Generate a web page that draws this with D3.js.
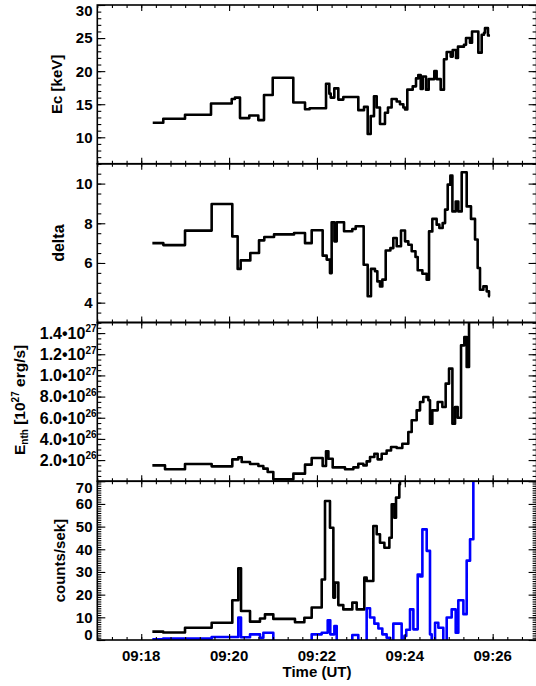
<!DOCTYPE html>
<html><head><meta charset="utf-8">
<script src="https://cdn.jsdelivr.net/npm/d3@7"></script>
<style>
body{margin:0;background:#fff}
svg{display:block}
text{font-family:"Liberation Sans",Arial,Helvetica,sans-serif;font-weight:bold;fill:#000}
</style>
</head><body>
<svg id="c" width="536" height="686"></svg>
<script>
// time values: seconds after 09:17:00 UT
const xMajorTicks = [60, 180, 300, 420, 540];
const xTickLabels = ["09:18", "09:20", "09:22", "09:24", "09:26"];

// Panel 1: Ec [keV]
const ecData = [[75.7,12.2],[90.1,12.8],[119.8,13.4],[155.3,15.1],[183.6,15.8],[188,16.0],[194.9,12.9],[207.6,13.3],[219.9,12.6],[227.7,16.4],[239.6,19.0],[267.7,15.25],[283.7,14.25],[290,14.4],[312.4,18.1],[316.9,16.6],[318.8,16.0],[323.7,17.4],[329.2,15.7],[336,16.1],[356.5,14.1],[364.3,14.6],[369.3,10.5],[373.4,13.2],[377.9,16.2],[381.6,14.5],[386.1,12.0],[392.9,13.7],[397,14.5],[402,15.8],[408.9,15.4],[413.4,15.0],[418,14.5],[420.3,14.2],[423.4,17.2],[430.8,17.7],[435.3,18.9],[438.4,19.4],[441.7,17.3],[444.4,19.2],[448.9,17.2],[452.6,18.8],[460.3,20.0],[463.5,18.8],[469,17.2],[473.5,21.8],[477.2,22.9],[482.7,22.2],[485.4,23.2],[489.9,22.0],[492.6,23.7],[500.8,24.0],[503.6,25.0],[509,24.3],[511.8,26.0],[520.4,22.8],[525,25.5],[528.2,25.8],[529.5,26.5],[533.6,25.4],[536.4,25.4]];
const ecTicks = [10, 15, 20, 25, 30];

// Panel 2: delta
const deltaData = [[75.2,7.0],[90.2,6.9],[119.8,7.63],[156.2,8.97],[184.4,7.34],[191.7,5.70],[195.8,6.13],[209,6.50],[220.9,7.14],[228.1,7.31],[241.4,7.44],[268.7,7.51],[283.7,7.0],[292.8,7.65],[307.8,6.37],[313.3,6.17],[317.8,5.49],[320.1,8.05],[323.8,7.09],[327,8.05],[337,7.6],[348.3,7.71],[352.9,7.85],[363.8,5.91],[369.3,4.32],[373.8,5.70],[379.3,5.58],[382.5,5.07],[386.1,4.82],[389.3,5.16],[393.9,6.63],[400.3,6.75],[404.3,7.26],[408.9,6.84],[414.8,7.64],[420.3,7.09],[424.8,6.92],[429.4,6.59],[434.6,6.3],[437.6,5.63],[444,5.46],[449.9,5.16],[453.1,7.59],[457.6,8.22],[463.5,7.93],[467.2,7.76],[471.7,8.01],[475,8.69],[478.6,9.95],[482.2,10.4],[485,8.6],[489.5,9.1],[493.1,8.6],[497.7,10.57],[504.5,8.85],[510.4,8.22],[515.9,7.18],[519.5,5.75],[522.7,4.65],[527.3,4.82],[531.8,4.57],[535,4.32],[536.4,4.32]];
const deltaTicks = [4, 6, 8, 10];

// Panel 3: E_nth in units of 1e27 erg/s
const enthData = [[75.2,0.150],[92.5,0.113],[119.8,0.163],[156.2,0.141],[184.4,0.207],[192.6,0.226],[197.2,0.182],[208.6,0.163],[220,0.144],[226.8,0.119],[232.7,0.087],[240.4,0.018],[267.8,0.072],[283.7,0.157],[292.8,0.22],[307.8,0.144],[312.4,0.283],[315.6,0.213],[321.5,0.131],[338.3,0.113],[349.7,0.131],[356.5,0.166],[363.4,0.15],[367.9,0.188],[372.5,0.229],[378.4,0.26],[382.9,0.207],[388.4,0.26],[395.2,0.29],[401.2,0.324],[408.9,0.314],[416.6,0.355],[424.8,0.465],[429.4,0.576],[436.2,0.67],[440.8,0.749],[445.3,0.796],[452.2,0.765],[454.4,0.544],[457.6,0.67],[464.9,0.749],[471.3,0.702],[475.8,0.922],[480.4,1.064],[485,0.544],[488.6,0.702],[492.2,0.60],[496.8,1.284],[501.3,1.363],[504.5,1.08],[507.7,1.7],[510,1.7]];
const enthTicks = [0.2, 0.4, 0.6, 0.8, 1.0, 1.2, 1.4];

// Panel 4: counts/sec
const countsBlack = [[75.2,3.7],[90,3.3],[119.8,5.4],[156.2,7.6],[184.4,17.5],[192.6,31.6],[196.3,12.8],[208.6,8.1],[222.2,9.5],[229,11.3],[240.4,9.3],[270,7.8],[282.8,9.8],[292.8,14.3],[306.5,26.7],[311,61.3],[317.8,49.5],[322.4,18.7],[324.7,25.3],[329.2,15.4],[336,13.5],[348.3,16.5],[354.3,13.5],[364.7,27.5],[367.9,26],[377,50.3],[381.6,46.6],[386.1,42.9],[392.1,40.7],[398.9,45.1],[402.1,59.8],[405.7,53.9],[408,62.8],[412.5,68.6],[413.4,75],[416,75]];
const countsBlue = [[75.2,0.3],[90,0.6],[156.2,1.3],[192.6,9.9],[196.3,1.2],[208.6,2.5],[222.2,1.0],[226.8,3.2],[240.4,-2],[292.8,2.5],[306.5,3.2],[314.7,8.7],[318.2,2.5],[323.8,6.2],[327,-2],[348.3,2.2],[356.5,-2],[367.9,14],[372.5,9.9],[378.4,7.2],[383.9,5.1],[389.3,2.5],[395.2,1.0],[399.8,-2],[404.3,7.2],[415.7,-2],[419.4,1.8],[422,4.5],[427.1,13.5],[431.7,4.7],[437.6,28.9],[441,28],[444,48.8],[449.9,39.3],[454.4,2.5],[456.7,-2],[461.3,7.6],[465.8,5.4],[472.6,-2],[477.2,9.9],[484,13.5],[489.5,3.2],[493.1,17.5],[500,11.4],[504.5,35],[509.1,44.4],[513.6,75],[516,75]];
const countsTicks = [0, 10, 20, 30, 40, 50, 60, 70];

const FS = 15;
const L = 97.3, R = 536.6;
const panelTop = [5, 163.75, 322.5, 481.25], PH = 158.75;

const svg = d3.select("#c");
const defs = svg.append("defs");
const x = d3.scaleLinear().domain([0, 600]).range([L, R]);
const xMinor = d3.range(0, 601, 20);

const panels = [
  {domain:[6,30], major:ecTicks, minor:d3.range(6,30.01,1), series:[{data:ecData,color:"#000"}], fmt:d=>String(d), labelX:92.5, fs:15},
  {domain:[3,11], major:deltaTicks, minor:d3.range(3,11.01,0.5), series:[{data:deltaData,color:"#000"}], fmt:d=>String(d), labelX:92.5, fs:15},
  {domain:[0,1.5], major:enthTicks, minor:d3.range(0,1.501,0.05), series:[{data:enthData,color:"#000"}], sci:true, labelX:96.5, fs:16},
  {domain:[0,70], major:countsTicks, minor:d3.range(0,70.01,1), series:[{data:countsBlack,color:"#000"},{data:countsBlue,color:"#0000ff"}], fmt:d=>String(d), labelX:92.5, fs:15}
];

panels.forEach((cfg, i) => {
  const top = panelTop[i], bot = top + PH;
  const y = d3.scaleLinear().domain(cfg.domain).range([bot, top]);
  const g = svg.append("g");
  const cid = "clip" + i;
  defs.append("clipPath").attr("id", cid).append("rect")
    .attr("x", L).attr("y", top).attr("width", R - L).attr("height", PH);
  const line = d3.line().x(d => x(d[0])).y(d => y(d[1])).curve(d3.curveStepAfter);
  cfg.series.forEach(s => {
    g.append("path").datum(s.data).attr("clip-path", `url(#${cid})`)
      .attr("fill", "none").attr("stroke", s.color).attr("stroke-width", 2.6)
      .attr("stroke-linejoin", "round").attr("d", line);
  });
  const mk = (axis, tr) => g.append("g").attr("transform", tr).call(axis)
    .call(a => a.select(".domain").remove())
    .call(a => a.selectAll("text").remove())
    .call(a => a.selectAll("line").attr("stroke", "#000").attr("stroke-width", 1.1));
  mk(d3.axisLeft(y).tickValues(cfg.major).tickSize(-8), `translate(${L},0)`);
  mk(d3.axisLeft(y).tickValues(cfg.minor).tickSize(-4), `translate(${L},0)`);
  mk(d3.axisRight(y).tickValues(cfg.major).tickSize(-8), `translate(${R},0)`);
  mk(d3.axisRight(y).tickValues(cfg.minor).tickSize(-4), `translate(${R},0)`);
  mk(d3.axisBottom(x).tickValues(xMajorTicks).tickSize(-6), `translate(0,${bot})`);
  mk(d3.axisBottom(x).tickValues(xMinor).tickSize(-3), `translate(0,${bot})`);
  mk(d3.axisTop(x).tickValues(xMajorTicks).tickSize(-6), `translate(0,${top})`);
  mk(d3.axisTop(x).tickValues(xMinor).tickSize(-3), `translate(0,${top})`);
  g.append("rect").attr("x", L).attr("y", top).attr("width", R - L).attr("height", PH)
    .attr("fill", "none").attr("stroke", "#000").attr("stroke-width", 1.6);
  const fs = cfg.fs;
  cfg.major.forEach(v => {
    let b = y(v) + 0.36 * fs;
    b = Math.max(b, top + 0.5 + 0.72 * fs);
    b = Math.min(b, bot - 0.5);
    const t = svg.append("text").attr("x", cfg.labelX).attr("y", b)
      .attr("text-anchor", "end").attr("font-size", fs);
    if (cfg.sci) {
      const exp = v < 1 ? 26 : 27;
      const man = v < 1 ? (v * 10).toFixed(1) : v.toFixed(1);
      t.append("tspan").text(man + "\u202210");
      t.append("tspan").attr("font-size", 10).attr("dy", -6.5).text(exp);
    } else {
      t.text(cfg.fmt(v));
    }
  });
});

xMajorTicks.forEach((v, i) => {
  svg.append("text").attr("x", x(v)).attr("y", 661).attr("text-anchor", "middle")
    .attr("font-size", FS).text(xTickLabels[i]);
});
svg.append("text").attr("x", (L + R) / 2).attr("y", 677).attr("text-anchor", "middle")
  .attr("font-size", FS).text("Time (UT)");

function ytitle(xb, yc, fs) {
  return svg.append("text").attr("transform", `translate(${xb},${yc}) rotate(-90)`)
    .attr("text-anchor", "middle").attr("font-size", fs || FS);
}
ytitle(62, panelTop[0] + PH / 2).text("Ec [keV]");
ytitle(64, panelTop[1] + PH / 2, 16).text("delta");
const et = ytitle(25, panelTop[2] + PH / 2 - 2, 15.5);
et.append("tspan").text("E");
et.append("tspan").attr("font-size", 10).attr("dy", 3).text("nth");
et.append("tspan").attr("dy", -3).text(" [10");
et.append("tspan").attr("font-size", 10).attr("dy", -6.5).text("27");
et.append("tspan").attr("dy", 6.5).text(" erg/s]");
ytitle(65, panelTop[3] + PH / 2).text("counts/sek]");
</script>
</body></html>
